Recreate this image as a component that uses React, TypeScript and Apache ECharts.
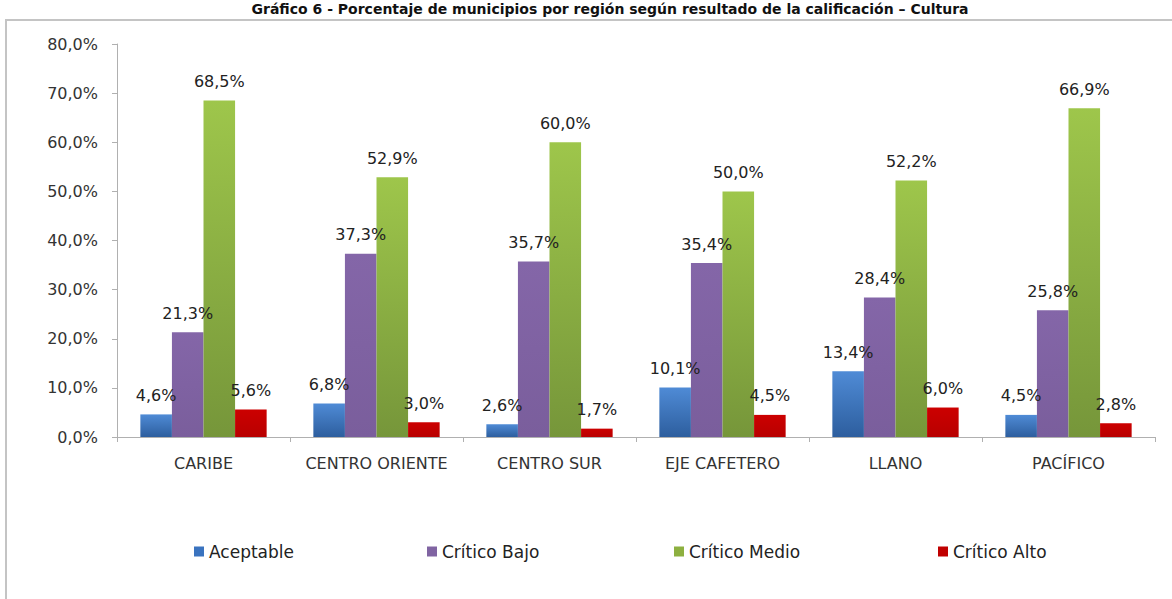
import React, { useEffect, useRef } from "react";
import * as echarts from "echarts";

const categories = ["CARIBE", "CENTRO ORIENTE", "CENTRO SUR", "EJE CAFETERO", "LLANO", "PACÍFICO"];
const seriesNames = ["Aceptable", "Crítico Bajo", "Crítico Medio", "Crítico Alto"];
const aceptable = [4.6, 6.8, 2.6, 10.1, 13.4, 4.5];
const criticoBajo = [21.3, 37.3, 35.7, 35.4, 28.4, 25.8];
const criticoMedio = [68.5, 52.9, 60.0, 50.0, 52.2, 66.9];
const criticoAlto = [5.6, 3.0, 1.7, 4.5, 6.0, 2.8];
const titleText = "Gráfico 6 - Porcentaje de municipios por región según resultado de la calificación – Cultura";

const FONT = "'DejaVu Sans', 'Liberation Sans', Arial, sans-serif";

const fmt = (v: number) => v.toFixed(1).replace(".", ",") + "%";

function grad(top: string, bottom: string) {
  return new echarts.graphic.LinearGradient(0, 0, 0, 1, [
    { offset: 0, color: top },
    { offset: 1, color: bottom },
  ]);
}

export default function App() {
  const ref = useRef<HTMLDivElement>(null);
  useEffect(() => {
    document.body.style.margin = "0";
    const chart = echarts.init(ref.current!, undefined, { renderer: "svg" });
    const colors = [
      grad("#4f8bd6", "#2d5e9e"),
      grad("#8466a8", "#7a5e9c"),
      grad("#9ec64b", "#76963a"),
      grad("#cc0000", "#b80000"),
    ];
    const legendColors = ["#3a73bf", "#8064a2", "#8db040", "#c00000"];
    const data = [aceptable, criticoBajo, criticoMedio, criticoAlto];
    const legendLefts = [194, 427, 674, 938];
    chart.setOption({
      animation: false,
      textStyle: { fontFamily: FONT },
      grid: { left: 117, right: 17, top: 44, bottom: 162, containLabel: false },
      legend: seriesNames.map((n, i) => ({
        data: [{ name: n, itemStyle: { color: legendColors[i] } }],
        left: legendLefts[i],
        top: 543,
        padding: 0,
        itemWidth: 10,
        itemHeight: 10,
        itemGap: 0,
        icon: "rect",
        selectedMode: false,
        textStyle: { fontFamily: FONT, fontSize: 17, color: "#222", padding: [0, 0, 0, 0] },
      })),
      xAxis: {
        type: "category",
        data: categories,
        axisLine: { lineStyle: { color: "#b0b0b0", width: 1 } },
        axisTick: { show: true, length: 5, lineStyle: { color: "#b0b0b0" } },
        axisLabel: { color: "#333", fontSize: 16, margin: 18, fontFamily: FONT, interval: 0 },
      },
      yAxis: {
        type: "value",
        min: 0,
        max: 80,
        interval: 10,
        axisLine: { show: true, lineStyle: { color: "#b0b0b0" } },
        axisTick: { show: true, length: 5, lineStyle: { color: "#b0b0b0" } },
        splitLine: { show: false },
        axisLabel: { color: "#333", fontSize: 16, margin: 19, fontFamily: FONT, formatter: (v: number) => fmt(v) },
      },
      series: seriesNames.map((n, i) => ({
        name: n,
        type: "bar",
        data: data[i],
        barGap: "0%",
        barCategoryGap: "27%",
        itemStyle: { color: colors[i] },
        label: {
          show: true,
          position: "top",
          distance: 11,
          fontSize: 16,
          color: "#222",
          fontFamily: FONT,
          formatter: (p: any) => fmt(p.value),
        },
      })),
      graphic: [
        {
          type: "rect",
          shape: { x: 6, y: 20, width: 1200, height: 620 },
          style: { fill: "none", stroke: "#c4c4c4", lineWidth: 2 },
          silent: true,
        },
        {
          type: "text",
          x: 610,
          y: 2,
          style: {
            text: titleText,
            fontFamily: FONT,
            fontWeight: "bold",
            fontSize: 14,
            fill: "#111",
            textAlign: "center",
            textVerticalAlign: "top",
          },
          silent: true,
        },
      ],
    });
    return () => chart.dispose();
  }, []);
  return <div ref={ref} style={{ position: "absolute", left: 0, top: 0, width: 1172, height: 599 }} />;
}
